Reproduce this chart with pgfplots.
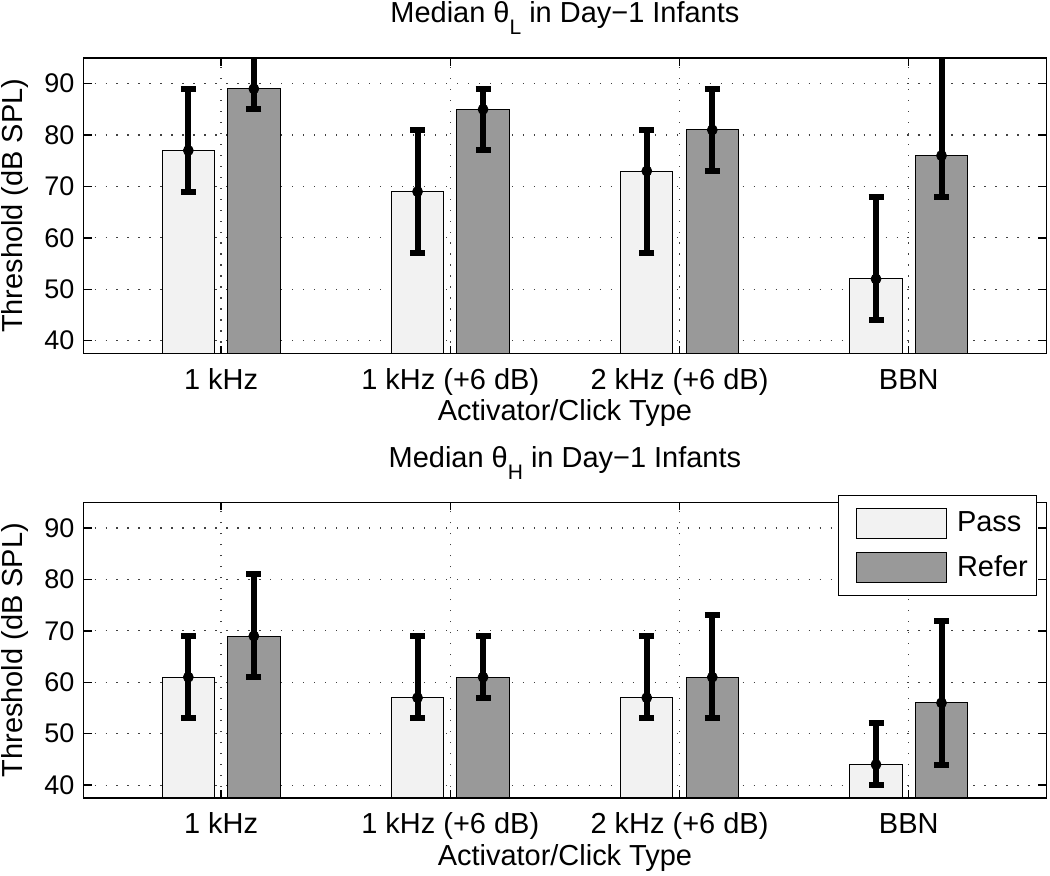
\documentclass[border=0pt]{standalone}
\usepackage{fontspec}
\setmainfont{Liberation Sans}
\usepackage{pgfplots}
\usepackage{pgfplotstable}
\pgfplotsset{compat=1.18}

% median thresholds with lower/upper range, theta_L
\pgfplotstableread{
g y lo hi
1 77 69 89
2 69 57 81
3 73 57 81
4 52 44 68
}\lowpass
\pgfplotstableread{
g y lo hi
1 89 85 97
2 85 77 89
3 81 73 89
4 76 68 100
}\lowrefer
% theta_H
\pgfplotstableread{
g y lo hi
1 61 53 69
2 57 53 69
3 57 53 69
4 44 40 52
}\highpass
\pgfplotstableread{
g y lo hi
1 69 61 81
2 61 57 69
3 61 53 73
4 56 44 72
}\highrefer

\definecolor{passfill}{gray}{0.95}
\definecolor{referfill}{gray}{0.6}
\newcommand{\fs}{\fontsize{14.5}{17}\selectfont}

\pgfplotsset{
  panel/.style={
    scale only axis, width=482pt, height=148pt,
    xmin=0.4, xmax=4.6, ymin=37.5, ymax=95,
    xtick={1,2,3,4},
    xticklabels={1 kHz,1 kHz (+6 dB),2 kHz (+6 dB),BBN},
    ytick={40,50,...,90},
    tick align=inside, major tick length=4pt,
    axis line style={line width=0.7pt},
    every tick/.style={black, line width=0.7pt},
    grid=major,
    major grid style={black!75, line width=0.6pt, dash pattern=on 0.6pt off 4.9pt},
    /pgf/number format/assume math mode=true,
    yticklabel style={font=\fontsize{13.5}{16}\selectfont, xshift=-1pt},
    xticklabel style={font=\fs, anchor=base, yshift=-18pt},
    every axis title/.style={at={(0.5,1.1182)}, anchor=base, font=\fs, inner sep=1pt},
    every axis x label/.style={at={(0.5,-0.2277)}, anchor=base, font=\fs, inner sep=2pt},
    every axis y label/.style={at={(-0.0629,0.5)}, rotate=90, anchor=base, font=\fs, inner sep=1pt},
    xlabel={Activator/Click Type},
    ylabel={Threshold (dB SPL)},
  },
  bars/.style={ybar, bar width=0.2286, bar shift=0pt, draw=black, line width=0.5pt,
    error bars/y dir=both, error bars/y explicit,
    error bars/error bar style={line width=3pt, black},
    error bars/error mark options={rotate=90, line width=3pt, black, mark size=3.75pt}},
  dots/.style={only marks, mark=*, mark size=2.5pt, black, forget plot},
}

\begin{document}
\begin{tikzpicture}
\begin{axis}[panel,
  title={Median θ\raisebox{-6pt}{\fontsize{10.5}{12}\selectfont L} in Day−1 Infants}]
\addplot[bars, fill=passfill] table[x expr=\thisrow{g}-0.1429, y=y,
  y error plus expr=\thisrow{hi}-\thisrow{y}, y error minus expr=\thisrow{y}-\thisrow{lo}] {\lowpass};
\addplot[bars, fill=referfill] table[x expr=\thisrow{g}+0.1429, y=y,
  y error plus expr=\thisrow{hi}-\thisrow{y}, y error minus expr=\thisrow{y}-\thisrow{lo}] {\lowrefer};
\addplot[dots] table[x expr=\thisrow{g}-0.1429, y=y] {\lowpass};
\addplot[dots] table[x expr=\thisrow{g}+0.1429, y=y] {\lowrefer};
\end{axis}

\begin{axis}[panel, at={(0pt,-222.5pt)},
  title={Median θ\raisebox{-6pt}{\fontsize{10.5}{12}\selectfont H} in Day−1 Infants},
  legend style={at={(0.9907,1.0236)}, anchor=north east, draw=black, line width=0.5pt,
    fill=white, font=\fs, inner xsep=4.5pt, inner ysep=5.5pt, row sep=5.4pt,
    column sep=5pt, nodes={inner xsep=0pt, inner ysep=2.5pt}},
  legend cell align=left,
  legend image code/.code={\path (0pt,0pt);
    \draw[#1, /tikz/.cd, draw=black, line width=0.5pt] (4.25pt,-7.5pt) rectangle (49.25pt,7.5pt);}]
\addplot[bars, fill=passfill] table[x expr=\thisrow{g}-0.1429, y=y,
  y error plus expr=\thisrow{hi}-\thisrow{y}, y error minus expr=\thisrow{y}-\thisrow{lo}] {\highpass};
\addplot[bars, fill=referfill] table[x expr=\thisrow{g}+0.1429, y=y,
  y error plus expr=\thisrow{hi}-\thisrow{y}, y error minus expr=\thisrow{y}-\thisrow{lo}] {\highrefer};
\addplot[dots] table[x expr=\thisrow{g}-0.1429, y=y] {\highpass};
\addplot[dots] table[x expr=\thisrow{g}+0.1429, y=y] {\highrefer};
\legend{Pass,Refer}
\end{axis}
\path ([xshift=1.5pt]current bounding box.east);
\end{tikzpicture}
\end{document}
